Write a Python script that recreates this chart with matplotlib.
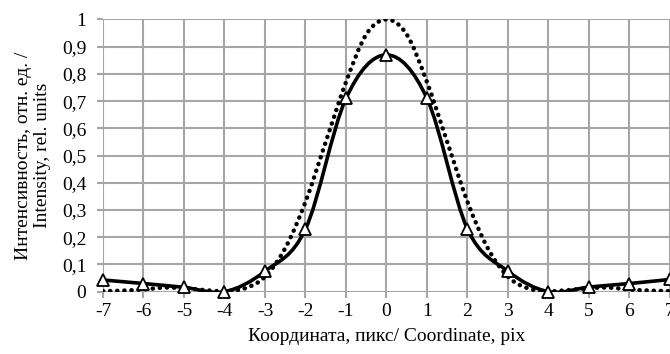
import numpy as np
import matplotlib.pyplot as plt
from matplotlib.path import Path
from matplotlib.patches import PathPatch

# measured profile (triangles) and reference curve (dotted)
x_meas = [-7, -6, -5, -4, -3, -2, -1, 0, 1, 2, 3, 4, 5, 6, 7]
y_meas = [0.043, 0.03, 0.016, 0.0, 0.075, 0.23, 0.71, 0.87, 0.71, 0.23, 0.075, 0.0, 0.017, 0.03, 0.045]

x_ref = [-7, -6.5, -6, -5.5, -5, -4.5, -4, -3.5, -3, -2.5, -2, -1.5, -1, -0.5, 0,
         0.5, 1, 1.5, 2, 2.5, 3, 3.5, 4, 4.5, 5, 5.5, 6, 6.5, 7]
y_ref = [0.002, 0.004, 0.008, 0.015, 0.013, 0.006, 0.002, 0.012, 0.055, 0.16, 0.33, 0.55, 0.77, 0.945, 1.0,
         0.945, 0.77, 0.55, 0.33, 0.16, 0.055, 0.012, 0.002, 0.006, 0.013, 0.015, 0.008, 0.004, 0.002]

x_ticks = list(range(-7, 8))
y_ticks = [0, 0.1, 0.2, 0.3, 0.4, 0.5, 0.6, 0.7, 0.8, 0.9, 1]
y_labels = ['0', '0,1', '0,2', '0,3', '0,4', '0,5', '0,6', '0,7', '0,8', '0,9', '1']


def smooth_path(xs, ys):
    # excel-like smoothed line: catmull-rom turned into cubic bezier segments
    p = np.column_stack([xs, ys]).astype(float)
    verts = [p[0]]
    codes = [Path.MOVETO]
    n = len(p)
    for i in range(n - 1):
        p0 = p[i - 1] if i > 0 else p[i]
        p3 = p[i + 2] if i + 2 < n else p[i + 1]
        c1 = p[i] + (p[i + 1] - p0) / 6
        c2 = p[i + 1] - (p3 - p[i]) / 6
        verts += [c1, c2, p[i + 1]]
        codes += [Path.CURVE4] * 3
    return Path(verts, codes)


plt.rcParams['font.family'] = 'Liberation Serif'
fig = plt.figure(figsize=(6.7, 3.54), dpi=100)
ax = fig.add_axes([0.1537, 0.176, 0.8463, 0.769])

ax.add_patch(PathPatch(smooth_path(x_ref, y_ref), fill=False, color='black', lw=3.2,
                       linestyle=(0, (0.05, 1.55)), capstyle='round', zorder=3))
ax.add_patch(PathPatch(smooth_path(x_meas, y_meas), fill=False, color='black', lw=2.6, zorder=4))
ax.plot(x_meas, y_meas, ls='none', marker='^', ms=9, mfc='white', mec='black', mew=1.3,
        zorder=5, clip_on=False)

ax.set_xlim(-7, 7)
ax.set_ylim(0, 1)
ax.set_xticks(x_ticks)
ax.set_xticklabels([str(v) for v in x_ticks])
ax.set_yticks(y_ticks)
ax.set_yticklabels(y_labels)
ax.grid(True, color='#a6a6a6', lw=1.5)
ax.set_axisbelow(True)
for s in ax.spines.values():
    s.set_visible(False)
ax.tick_params(axis='both', colors='#a6a6a6', labelcolor='black', labelsize=14, length=4, width=1.5)
ax.tick_params(axis='y', pad=8)
ax.tick_params(axis='x', pad=4)

ax.set_xlabel('Координата, пикс/ Coordinate, pix', fontsize=14, labelpad=6)
ax.set_ylabel('Интенсивность, отн. ед. /\nIntensity, rel. units', fontsize=14, labelpad=8,
              linespacing=1.1)

fig.savefig('out.png', dpi=100)
